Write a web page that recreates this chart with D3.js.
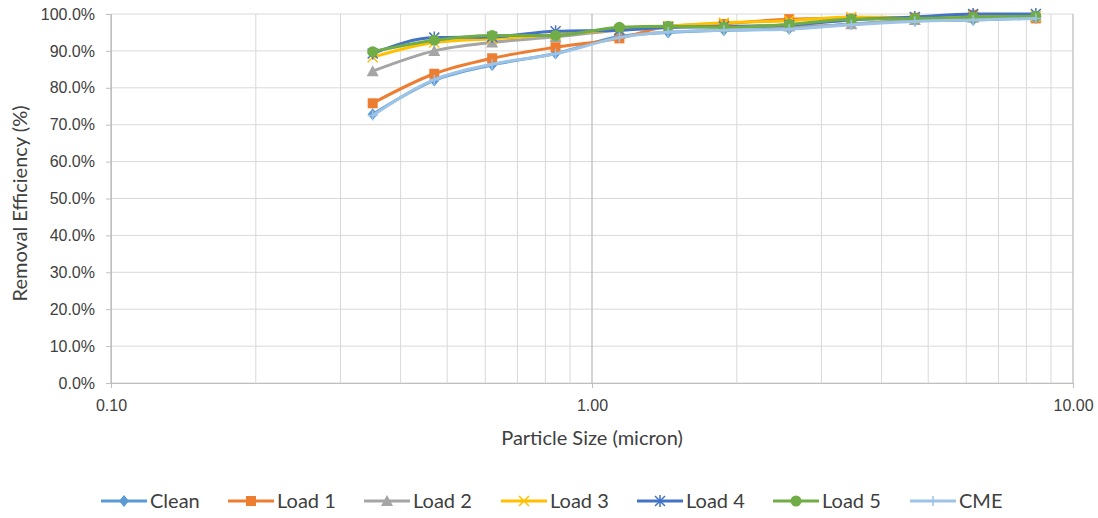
<!DOCTYPE html>
<html>
<head>
<meta charset="utf-8">
<script src="https://cdn.jsdelivr.net/npm/d3@7"></script>
<style>
  body { margin: 0; background: #fff; }
  svg { font-family: Lato, "Open Sans", sans-serif; }
</style>
</head>
<body>
<svg width="1098" height="518"></svg>
<script>
// размеры частиц (мкм)
const sizes = [0.35, 0.47, 0.62, 0.84, 1.14, 1.44, 1.88, 2.57, 3.46, 4.69, 6.2, 8.37];

const clean = [72.8, 82.0, 86.2, 89.3, 93.9, 95.0, 95.6, 96.0, 97.3, 98.2, 98.4, 98.9];
const load1 = [75.8, 83.8, 88.0, 91.0, 93.4, 96.6, 97.3, 98.6, 98.8, 99.0, 99.8, 98.8];
const load2 = [84.5, 90.0, 92.3, 93.8, 95.6, 96.3, 96.6, 96.6, 97.2, 98.4, 99.0, 99.2];
const load3 = [88.3, 92.3, 93.3, 94.4, 95.8, 96.7, 97.6, 98.2, 99.2, 99.0, 99.5, 99.4];
const load4 = [89.3, 93.6, 93.8, 95.3, 95.6, 96.4, 96.6, 97.0, 98.4, 99.2, 100.0, 100.0];
const load5 = [89.8, 92.9, 94.2, 94.2, 96.4, 96.7, 96.4, 97.2, 98.6, 98.8, 99.1, 99.4];
const cme   = [72.5, 82.2, 86.4, 89.2, 93.6, 95.1, 95.6, 95.9, 97.1, 98.0, 98.4, 98.8];

const seriesNames = ["Clean", "Load 1", "Load 2", "Load 3", "Load 4", "Load 5", "CME"];
const seriesValues = [clean, load1, load2, load3, load4, load5, cme];
const seriesColors = ["#5B9BD5", "#ED7D31", "#A5A5A5", "#FFC000", "#4472C4", "#70AD47", "#9DC3E6"];
const seriesMarkers = ["diamond", "square", "triangle", "x", "star", "circle", "plus"];

const yTicks = [0, 10, 20, 30, 40, 50, 60, 70, 80, 90, 100];
const xMajor = [0.1, 1, 10];

const svg = d3.select("svg");
const area = { left: 111, right: 1073, top: 14, bottom: 383 };

const scX = d3.scaleLog().domain([0.1, 10]).range([area.left, area.right]);
const scY = d3.scaleLinear().domain([0, 100]).range([area.bottom, area.top]);

// сетка: малые вертикальные линии
let minor = [];
for (let d = 0.1; d < 10; d *= 10) {
    for (let k = 2; k <= 9; k++) minor.push(+(d * k).toFixed(2));
}
svg.append("g").selectAll("line").data(minor).enter().append("line")
    .attr("x1", d => scX(d)).attr("x2", d => scX(d))
    .attr("y1", area.top).attr("y2", area.bottom)
    .attr("stroke", "#d9d9d9").attr("stroke-width", 1);

svg.append("g").selectAll("line").data(yTicks).enter().append("line")
    .attr("x1", area.left).attr("x2", area.right)
    .attr("y1", d => scY(d)).attr("y2", d => scY(d))
    .attr("stroke", "#d9d9d9").attr("stroke-width", 1);

svg.append("g").selectAll("line").data(xMajor).enter().append("line")
    .attr("x1", d => scX(d)).attr("x2", d => scX(d))
    .attr("y1", area.top).attr("y2", area.bottom)
    .attr("stroke", "#bfbfbf").attr("stroke-width", 1.3);

// оси
const axisY = d3.axisLeft(scY).tickValues(yTicks).tickFormat(d => d.toFixed(1) + "%").tickSize(5).tickSizeOuter(0);
const gy = svg.append("g").attr("transform", `translate(${area.left},0)`).call(axisY);
gy.select(".domain").attr("stroke", "#bfbfbf");
gy.selectAll(".tick line").attr("stroke", "#bfbfbf");
gy.selectAll("text").attr("font-size", 16).attr("fill", "#404040").attr("x", -16);

const axisX = d3.axisBottom(scX).tickValues(xMajor).tickFormat(d3.format(".2f")).tickSize(5).tickSizeOuter(0);
const gx = svg.append("g").attr("transform", `translate(0,${area.bottom})`).call(axisX);
gx.select(".domain").attr("stroke", "#bfbfbf");
gx.selectAll(".tick line").attr("stroke", "#bfbfbf");
gx.selectAll("text").attr("font-size", 16).attr("fill", "#404040").attr("y", 17);

// подписи осей
svg.append("text").attr("x", (area.left + area.right) / 2).attr("y", 445)
    .attr("text-anchor", "middle").attr("font-size", 20).attr("fill", "#404040")
    .text("Particle Size (micron)");
svg.append("text").attr("transform", `translate(27,${(area.top + area.bottom) / 2 + 5}) rotate(-90)`)
    .attr("text-anchor", "middle").attr("font-size", 20).attr("fill", "#404040")
    .text("Removal Efficiency (%)");

// маркеры
function drawMarker(g, type, x, y, color, size) {
    const s = size / 2;
    if (type === "diamond") {
        g.append("path").attr("d", `M${x},${y - s - 1}L${x + s},${y}L${x},${y + s + 1}L${x - s},${y}Z`).attr("fill", color);
    } else if (type === "square") {
        g.append("rect").attr("x", x - s).attr("y", y - s).attr("width", size).attr("height", size).attr("fill", color);
    } else if (type === "triangle") {
        g.append("path").attr("d", `M${x},${y - s - 1}L${x + s + 1},${y + s}L${x - s - 1},${y + s}Z`).attr("fill", color);
    } else if (type === "circle") {
        g.append("circle").attr("cx", x).attr("cy", y).attr("r", s + 0.5).attr("fill", color);
    } else if (type === "x") {
        g.append("path").attr("d", `M${x - s},${y - s}L${x + s},${y + s}M${x - s},${y + s}L${x + s},${y - s}`)
            .attr("stroke", color).attr("stroke-width", 1.5);
    } else if (type === "star") {
        g.append("path").attr("d", `M${x - s},${y - s}L${x + s},${y + s}M${x - s},${y + s}L${x + s},${y - s}M${x},${y - s - 1}L${x},${y + s + 1}`)
            .attr("stroke", color).attr("stroke-width", 1.5);
    } else if (type === "plus") {
        g.append("path").attr("d", `M${x - s},${y}L${x + s},${y}M${x},${y - s}L${x},${y + s}`)
            .attr("stroke", color).attr("stroke-width", 1.5);
    }
}

// линии серий
const line = d3.line().x(d => scX(d[0])).y(d => scY(d[1])).curve(d3.curveMonotoneX);
seriesValues.forEach((vals, i) => {
    const pts = sizes.map((s, j) => [s, vals[j]]);
    const g = svg.append("g");
    g.append("path").datum(pts).attr("d", line)
        .attr("fill", "none").attr("stroke", seriesColors[i]).attr("stroke-width", 3)
        .attr("stroke-linejoin", "round").attr("stroke-linecap", "round");
    pts.forEach(p => drawMarker(g, seriesMarkers[i], scX(p[0]), scY(p[1]), seriesColors[i], 10));
});

// легенда
const legendX = [101, 228, 364, 501, 637, 773, 910];
const ly = 501;
seriesNames.forEach((name, i) => {
    const g = svg.append("g");
    const x0 = legendX[i];
    g.append("line").attr("x1", x0).attr("x2", x0 + 46).attr("y1", ly).attr("y2", ly)
        .attr("stroke", seriesColors[i]).attr("stroke-width", 3);
    drawMarker(g, seriesMarkers[i], x0 + 23, ly, seriesColors[i], 10);
    g.append("text").attr("x", x0 + 49).attr("y", ly + 7).attr("font-size", 20).attr("fill", "#404040").text(name);
});
</script>
</body>
</html>
